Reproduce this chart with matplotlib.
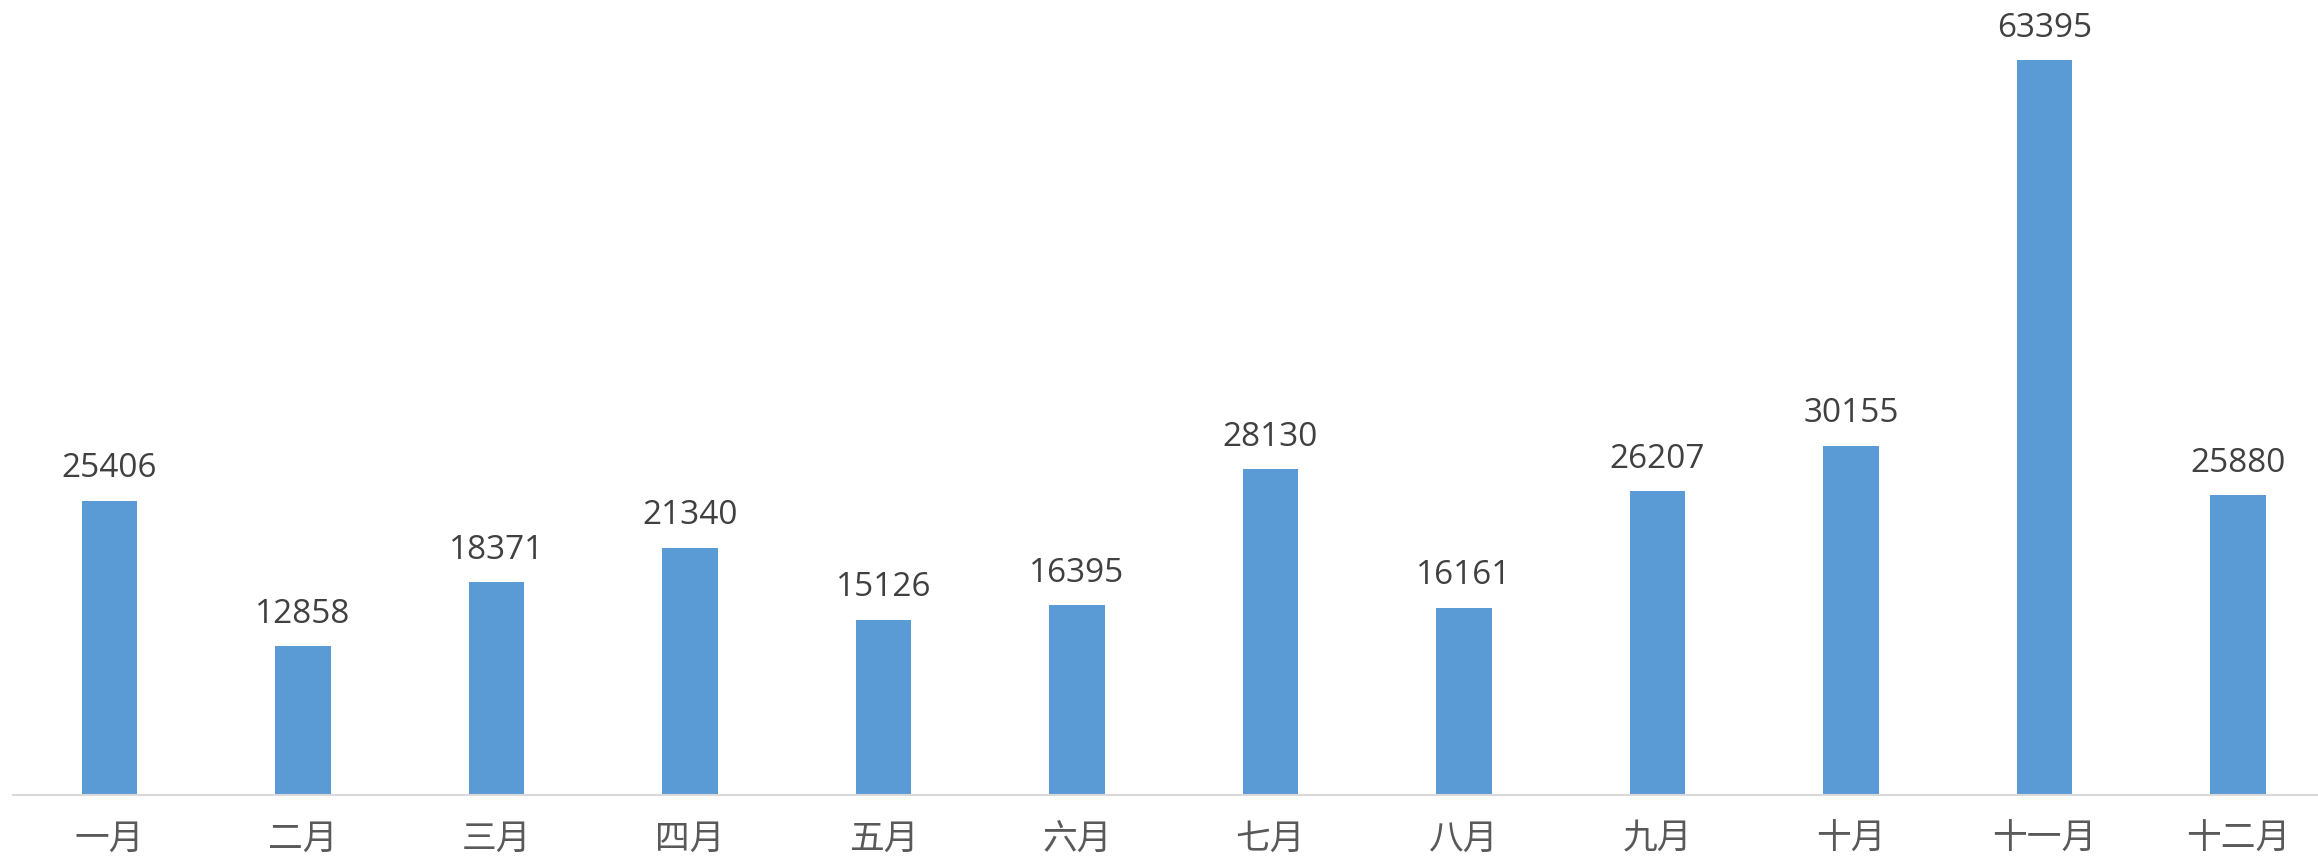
import matplotlib
matplotlib.use("Agg")
import matplotlib.pyplot as plt

months = ["一月", "二月", "三月", "四月", "五月", "六月",
          "七月", "八月", "九月", "十月", "十一月", "十二月"]
values = [25406, 12858, 18371, 21340, 15126, 16395,
          28130, 16161, 26207, 30155, 63395, 25880]

W, H, DPI = 2318, 865, 100
fig = plt.figure(figsize=(W / DPI, H / DPI), dpi=DPI)
fig.patch.set_facecolor("white")

left_px, base_px, step_px = 12.75, 795, 193.5
ax = fig.add_axes([left_px / W, (H - base_px) / H, 12 * step_px / W, base_px / H])

x = list(range(len(months)))
bars = ax.bar(x, values, width=0.285, color="#5B9BD5", zorder=2)
ax.bar_label(bars, labels=[str(v) for v in values], padding=11,
             fontsize=24, color="#404040", family=["Open Sans", "DejaVu Sans"])

ax.set_xlim(-0.5, 11.5)
ax.set_ylim(0, 68600)
ax.set_xticks(x)
ax.set_xticklabels(months, fontsize=25, color="#595959", fontweight="light",
                   family=["Noto Sans CJK SC", "DejaVu Sans"])
ax.tick_params(axis="x", length=0, pad=19)
ax.set_yticks([])
for s in ["top", "left", "right"]:
    ax.spines[s].set_visible(False)
ax.spines["bottom"].set_color("#D9D9D9")
ax.spines["bottom"].set_linewidth(1.5)
ax.patch.set_alpha(0)

fig.savefig("out.png", dpi=DPI)
